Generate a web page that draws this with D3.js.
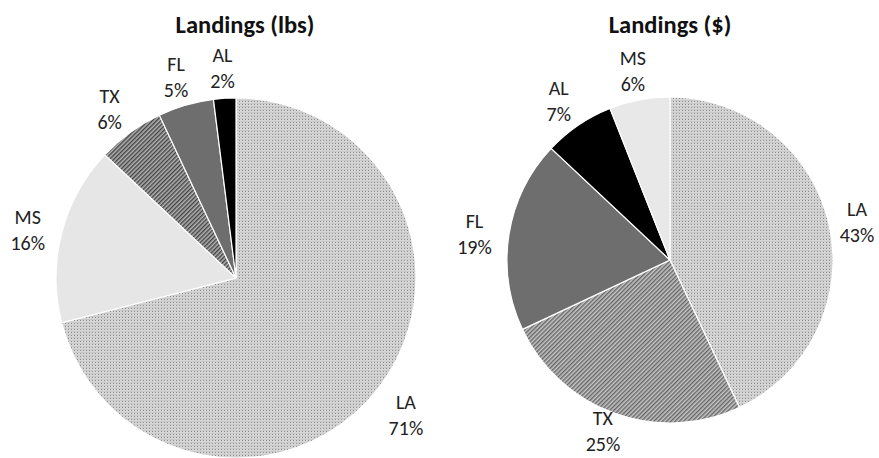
<!DOCTYPE html>
<html>
<head>
<meta charset="utf-8">
<script src="https://cdn.jsdelivr.net/npm/d3@7"></script>
<style>
  body { margin: 0; background: #fff; }
  svg text { font-family: Calibri, Carlito, Lato, sans-serif; fill: #222; }
</style>
</head>
<body>
<svg id="chart" width="879" height="458"></svg>
<script>
// data, clockwise from 12 o'clock
var lbsStates = ['LA', 'MS', 'TX', 'FL', 'AL']
var lbsShare  = [71, 16, 6, 5, 2]
var usdStates = ['LA', 'TX', 'FL', 'AL', 'MS']
var usdShare  = [43, 25, 19, 7, 6]
var titles = ['Landings (lbs)', 'Landings ($)']

var svg = d3.select('#chart')
var defs = svg.append('defs')

// fine dot texture for LA
var dots = defs.append('pattern').attr('id', 'dots')
  .attr('patternUnits', 'userSpaceOnUse').attr('width', 3).attr('height', 3)
dots.append('rect').attr('width', 3).attr('height', 3).attr('fill', '#d6d6d6')
dots.append('rect').attr('width', 1).attr('height', 1).attr('fill', '#8c8c8c')
dots.append('rect').attr('x', 0).attr('y', 2).attr('width', 3).attr('height', 0.5).attr('fill', '#bdbdbd')

// diagonal hatch for TX (two shades)
function hatch(id, bg, fg) {
  var p = defs.append('pattern').attr('id', id)
    .attr('patternUnits', 'userSpaceOnUse').attr('width', 3).attr('height', 3)
    .attr('patternTransform', 'rotate(45)')
  p.append('rect').attr('width', 3).attr('height', 3).attr('fill', bg)
  p.append('rect').attr('width', 1.4).attr('height', 3).attr('fill', fg)
}
hatch('hatchDark', '#b0b0b0', '#444')
hatch('hatchMid', '#c4c4c4', '#666')

var fillFor = [
  { LA: 'url(#dots)', MS: '#e6e6e6', TX: 'url(#hatchDark)', FL: '#6e6e6e', AL: '#000' },
  { LA: 'url(#dots)', MS: '#e8e8e8', TX: 'url(#hatchMid)', FL: '#6e6e6e', AL: '#000' }
]

var pies = [
  { states: lbsStates, vals: lbsShare, cx: 236, cy: 278, r: 180, tx: 245 },
  { states: usdStates, vals: usdShare, cx: 670, cy: 260, r: 163, tx: 670 }
]

var pie = d3.pie().sort(null).value(function (d) { return d.v })

pies.forEach(function (p, k) {
  var rows = p.states.map(function (s, i) { return { s: s, v: p.vals[i] } })
  var arcs = pie(rows)
  var arc = d3.arc().innerRadius(0).outerRadius(p.r)
  var lab = d3.arc().innerRadius(p.r + 35).outerRadius(p.r + 35)

  var g = svg.append('g').attr('transform', 'translate(' + p.cx + ',' + p.cy + ')')

  g.selectAll('path').data(arcs).enter().append('path')
    .attr('d', arc)
    .attr('fill', function (d) { return fillFor[k][d.data.s] })
    .attr('stroke', '#fff')
    .attr('stroke-width', 1.2)

  var t = g.selectAll('text.lbl').data(arcs).enter().append('text')
    .attr('class', 'lbl')
    .attr('text-anchor', 'middle')
    .attr('font-size', 20)
    .attr('transform', function (d) {
      var c = lab.centroid(d)
      // keep labels inside the frame
      c[0] = Math.min(c[0], 857 - p.cx)
      c[1] = Math.min(c[1], 426 - p.cy)
      return 'translate(' + c + ')'
    })
  t.append('tspan').attr('x', 0).attr('y', -1).text(function (d) { return d.data.s })
  t.append('tspan').attr('x', 0).attr('y', 25).text(function (d) { return d.data.v + '%' })

  svg.append('text')
    .attr('x', p.tx).attr('y', 33)
    .attr('text-anchor', 'middle')
    .attr('font-size', 24.5)
    .attr('font-weight', 'bold')
    .style('fill', '#111')
    .text(titles[k])
})
</script>
</body>
</html>
